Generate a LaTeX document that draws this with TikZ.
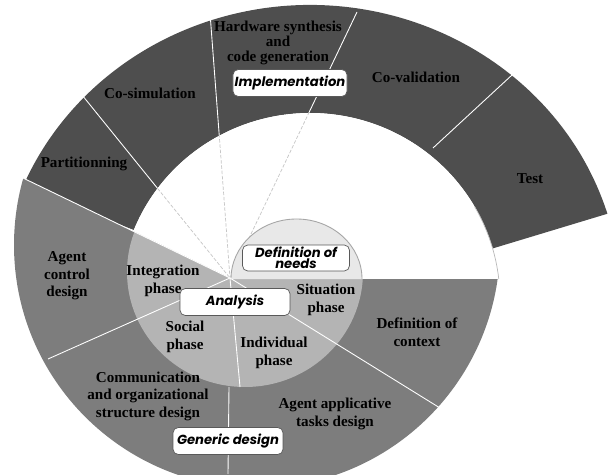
\documentclass[tikz,border=0pt]{standalone}
\usepackage{fontspec}
\setmainfont{Liberation Serif}
\newfontfamily\boxfont{Poppins}
\usetikzlibrary{calc}
\definecolor{ringdark}{RGB}{78,78,78}
\definecolor{genericgray}{RGB}{125,125,125}
\definecolor{analysisgray}{RGB}{180,180,180}
\definecolor{needsgray}{RGB}{232,232,232}
\tikzset{
  lbl/.style={align=center, font=\fontsize{8.6}{10}\selectfont\bfseries, text=black, inner sep=1pt},
  phasebox/.style={draw=gray!70!black, fill=white, rounded corners=3pt, thin,
    font=\boxfont\fontsize{7.5}{6.5}\selectfont\bfseries\itshape, align=center,
    inner sep=1pt, minimum width=2.2cm, minimum height=0.54cm},
  sep/.style={white, line width=0.5pt},
  sepdash/.style={gray!45, line width=0.4pt, dash pattern=on 2pt off 1pt},
}
\begin{document}
\begin{tikzpicture}[x=0.02cm, y=0.02cm]
    \useasboundingbox (0,0) rectangle (609,474);

    % Centres
    \coordinate (P) at (230,196);
    \coordinate (Co) at (310,174);
    \coordinate (Cg) at (257,229);

    % Anneau Implementation
    \fill[ringdark] ($(Co)+(17:311 and 295)$) arc[start angle=17, end angle=157.5, x radius=311, y radius=295]
        -- ($(Co)+(158:190 and 187)$) arc[start angle=158, end angle=16, x radius=190, y radius=187] -- cycle;

    % Zone blanche
    \fill[white] ($(Co)+(6.45:190 and 187)$) arc[start angle=6.45, end angle=173.55, x radius=190, y radius=187] -- cycle;
    \draw[gray!55, line width=0.4pt] ($(Co)+(6.45:190 and 187)$) arc[start angle=6.45, end angle=30, x radius=190, y radius=187];

    % Separations de l'anneau
    \coordinate (partout) at (78,384);
    \coordinate (simout) at (210,461);
    \coordinate (hwout) at (357,462);
    \draw[sep] (partout) -- (P);
    \draw[sep] (simout) -- (P);
    \draw[sep] (hwout) -- (P);
    \draw[sep] (512,399) -- (433,326);
    \begin{scope}
        \clip ($(Co)+(6.45:190 and 187)$) arc[start angle=6.45, end angle=173.55, x radius=190, y radius=187] -- cycle;
        \draw[sepdash] (partout) -- (P);
        \draw[sepdash] (simout) -- (P);
        \draw[sepdash] (hwout) -- (P);
    \end{scope}

    % Generic design + Analysis
    \begin{scope}
        \clip (P) -- (-20,317) -- (-20,-20) -- (630,-20) -- (630,195) -- (232,195) -- cycle;
        \fill[genericgray] (Cg) circle (243);
        \fill[analysisgray] (245,202) ellipse [x radius=118, y radius=115];
    \end{scope}

    % Definition of needs
    \fill[needsgray] (231,195) arc[start angle=180, end angle=0, x radius=65.5, y radius=60] -- cycle;
    \draw[gray!70, line width=0.5pt] (231,195) arc[start angle=180, end angle=0, x radius=65.5, y radius=60];

    % Separations du bas
    \draw[sep] (23,296) -- (P);
    \draw[sep] (P) -- (48,115);
    \draw[sep] (P) -- (240,87);
    \draw[sep] (229,87) -- (228,0);
    \draw[sep] (P) -- (440,66);

    % Libelles
    \node[lbl, font=\fontsize{8.6}{8.3}\selectfont\bfseries] (hw) at (278,431) {Hardware synthesis\\and\\code generation};
    \node[lbl] (cosim) at (150,381) {Co-simulation};
    \node[lbl] (coval) at (416,397) {Co-validation};
    \node[lbl] (part) at (84,310) {Partitionning};
    \node[lbl] (test) at (530,295) {Test};
    \node[lbl] (agentctl) at (67,198) {Agent\\control\\design};
    \node[lbl] (integ) at (163,193) {Integration\\phase};
    \node[lbl] (situ) at (326,174) {Situation\\phase};
    \node[lbl] (social) at (185,137) {Social\\phase};
    \node[lbl] (indiv) at (274,121) {Individual\\phase};
    \node[lbl] (defctx) at (417,142) {Definition of\\context};
    \node[lbl] (comm) at (148,78) {Communication\\and organizational\\structure design};
    \node[lbl] (agentapp) at (335,60) {Agent applicative\\tasks design};

    % Cadres des phases
    \node[phasebox] (impl) at (290,391) {Implementation};
    \node[phasebox] (analysis) at (235,172) {Analysis};
    \node[phasebox, minimum width=2.14cm, minimum height=0.52cm] (needs) at (296,216) {Definition of\\needs};
    \node[phasebox] (generic) at (228,33) {Generic design};

\end{tikzpicture}
\end{document}
